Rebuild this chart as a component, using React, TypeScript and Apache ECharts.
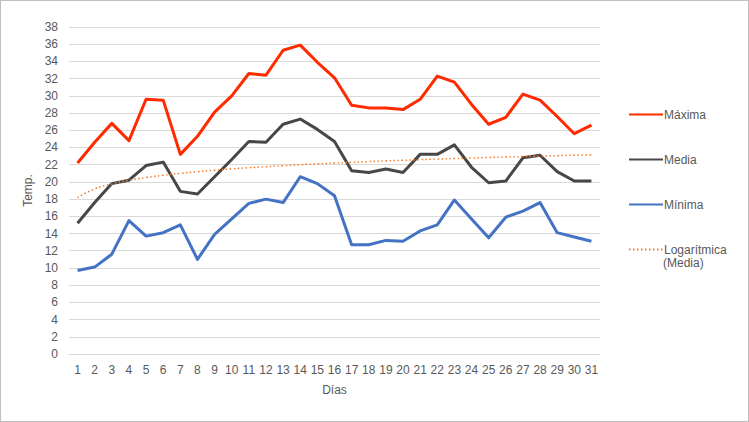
import React, { useEffect, useRef } from "react";
import * as echarts from "echarts";

const days = Array.from({ length: 31 }, (_, i) => String(i + 1));
const maxima = [22.2, 24.6, 26.8, 24.8, 29.6, 29.5, 23.2, 25.3, 28.1, 30.0, 32.6, 32.4, 35.3, 35.9, 33.9, 32.1, 28.9, 28.6, 28.6, 28.4, 29.6, 32.3, 31.6, 29.0, 26.7, 27.5, 30.2, 29.5, 27.6, 25.6, 26.6];
const media = [15.2, 17.6, 19.8, 20.2, 21.9, 22.3, 18.9, 18.6, 20.6, 22.6, 24.7, 24.6, 26.7, 27.3, 26.1, 24.7, 21.3, 21.1, 21.5, 21.1, 23.2, 23.2, 24.3, 21.7, 19.9, 20.1, 22.8, 23.1, 21.2, 20.1, 20.1];
const minima = [9.7, 10.1, 11.6, 15.5, 13.7, 14.1, 15.0, 11.0, 13.9, 15.7, 17.5, 18.0, 17.6, 20.6, 19.8, 18.4, 12.7, 12.7, 13.2, 13.1, 14.3, 15.0, 17.9, 15.7, 13.5, 15.9, 16.6, 17.6, 14.1, 13.6, 13.1];
const seriesNames = ["Máxima", "Media", "Mínima", "Logarítmica (Media)"];
const trendLabelLines = ["Logarítmica", "(Media)"];

// logarithmic trendline fitted to "Media" (least squares on ln(x))
function logTrend(values: number[]): number[] {
  const n = values.length;
  const xs = values.map((_, i) => Math.log(i + 1));
  const mx = xs.reduce((a, b) => a + b, 0) / n;
  const my = values.reduce((a, b) => a + b, 0) / n;
  let sxy = 0, sxx = 0;
  for (let i = 0; i < n; i++) {
    sxy += (xs[i] - mx) * (values[i] - my);
    sxx += (xs[i] - mx) * (xs[i] - mx);
  }
  const a = sxy / sxx;
  const b = my - a * mx;
  return xs.map((x) => +(a * x + b).toFixed(3));
}

const FONT = "'Liberation Sans', 'Noto Sans', sans-serif";
const TXT = "#595959";

export default function App() {
  const ref = useRef<HTMLDivElement>(null);
  useEffect(() => {
    const chart = echarts.init(ref.current!, undefined, { renderer: "svg" });
    const trend = logTrend(media);
    chart.setOption({
      animation: false,
      backgroundColor: "#ffffff",
      textStyle: { fontFamily: FONT },
      grid: { left: 68, right: 148, top: 26, bottom: 67 },
      legend: {
        orient: "vertical",
        left: 622,
        top: 101,
        itemWidth: 34,
        itemHeight: 14,
        itemGap: 30,
        data: seriesNames,
        itemStyle: { opacity: 0 },
        formatter: (name: string) => (name === seriesNames[3] ? trendLabelLines[0] : name),
        textStyle: { color: TXT, fontSize: 12, fontFamily: FONT, lineHeight: 15, padding: [0, 0, 0, -4] },
      },
      graphic: [
        {
          type: "text",
          left: 662,
          top: 256,
          style: { text: trendLabelLines[1], fill: TXT, fontSize: 12, fontFamily: FONT },
        },
      ],
      xAxis: {
        type: "category",
        data: days,
        boundaryGap: true,
        name: "Días",
        nameLocation: "middle",
        nameGap: 30,
        nameTextStyle: { color: TXT, fontSize: 12, fontFamily: FONT },
        axisLine: { show: true, lineStyle: { color: "#d9d9d9", width: 1 } },
        axisTick: { show: false },
        axisLabel: { color: TXT, fontSize: 12, fontFamily: FONT, margin: 10, interval: 0 },
      },
      yAxis: {
        type: "value",
        min: 0,
        max: 38,
        interval: 2,
        name: "Temp.",
        nameLocation: "middle",
        nameGap: 31,
        nameTextStyle: { color: TXT, fontSize: 12, fontFamily: FONT },
        axisLine: { show: false },
        axisTick: { show: false },
        axisLabel: { color: TXT, fontSize: 12, fontFamily: FONT, margin: 11 },
        splitLine: { lineStyle: { color: "#d9d9d9", width: 1 } },
      },
      series: [
        {
          name: seriesNames[0],
          type: "line",
          data: maxima,
          symbol: "none",
          lineStyle: { color: "#ff2a00", width: 3, join: "round" },
          itemStyle: { color: "#ff2a00" },
        },
        {
          name: seriesNames[1],
          type: "line",
          data: media,
          symbol: "none",
          lineStyle: { color: "#474747", width: 3, join: "round" },
          itemStyle: { color: "#474747" },
        },
        {
          name: seriesNames[2],
          type: "line",
          data: minima,
          symbol: "none",
          lineStyle: { color: "#4472c4", width: 3, join: "round" },
          itemStyle: { color: "#4472c4" },
        },
        {
          name: seriesNames[3],
          type: "line",
          data: trend,
          symbol: "none",
          smooth: true,
          lineStyle: { color: "#ed7d31", width: 1.5, type: [1.5, 2.5] },
          itemStyle: { color: "#ed7d31" },
        },
      ],
    });
    return () => chart.dispose();
  }, []);
  return (
    <div
      style={{
        position: "absolute",
        left: 0,
        top: 0,
        width: 749,
        height: 422,
        boxSizing: "border-box",
        border: "1px solid #bfbfbf",
        background: "#fff",
      }}
    >
      <div ref={ref} style={{ width: 747, height: 420 }} />
    </div>
  );
}
